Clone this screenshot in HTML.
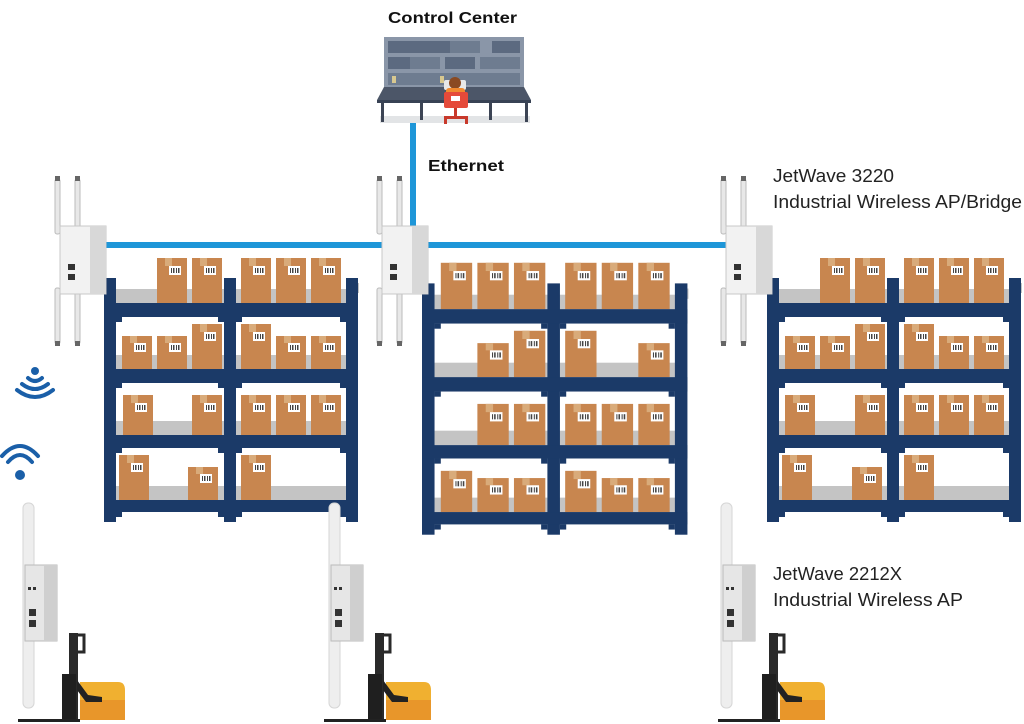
<!DOCTYPE html>
<html><head><meta charset="utf-8"><style>
html,body{margin:0;padding:0;background:#fff;}
svg{display:block;}
text{font-family:"Liberation Sans",sans-serif;}
</style></head><body>
<svg width="1024" height="724" viewBox="0 0 1024 724" xmlns="http://www.w3.org/2000/svg">
<defs>
 <g id="box">
  <rect x="0" y="0" width="30" height="40" fill="#c8864f"/>
  <rect x="8" y="0" width="7" height="8" fill="#d9ab7a"/>
  <rect x="12" y="8" width="12" height="9" fill="#fff"/>
  <rect x="14" y="10" width="1" height="5" fill="#444"/><rect x="16" y="10" width="1.5" height="5" fill="#444"/><rect x="19" y="10" width="1" height="5" fill="#444"/><rect x="21" y="10" width="1.5" height="5" fill="#444"/>
 </g>
 <g id="sbox">
  <rect x="0" y="0" width="30" height="33" fill="#c8864f"/>
  <rect x="8" y="0" width="7" height="7" fill="#d9ab7a"/>
  <rect x="12" y="7" width="12" height="9" fill="#fff"/>
  <rect x="14" y="9" width="1" height="5" fill="#444"/><rect x="16" y="9" width="1.5" height="5" fill="#444"/><rect x="19" y="9" width="1" height="5" fill="#444"/><rect x="21" y="9" width="1.5" height="5" fill="#444"/>
 </g>
 <g id="tbox">
  <rect x="0" y="0" width="30" height="45" fill="#c8864f"/>
  <rect x="8" y="0" width="7" height="8" fill="#d9ab7a"/>
  <rect x="12" y="8" width="12" height="9" fill="#fff"/>
  <rect x="14" y="10" width="1" height="5" fill="#444"/><rect x="16" y="10" width="1.5" height="5" fill="#444"/><rect x="19" y="10" width="1" height="5" fill="#444"/><rect x="21" y="10" width="1.5" height="5" fill="#444"/>
 </g>
 <g id="frame">
  <rect x="12" y="24" width="232" height="14" fill="#c4c4c4"/>
  <rect x="12" y="90" width="232" height="14" fill="#c4c4c4"/>
  <rect x="12" y="156" width="232" height="14" fill="#c4c4c4"/>
  <rect x="12" y="221" width="232" height="14" fill="#c4c4c4"/>
  <rect x="0" y="18" width="12" height="10" fill="#c4c4c4"/>
  <rect x="243" y="18" width="12" height="10" fill="#c4c4c4"/>
 </g>
 <g id="posts" fill="#1b3a68">
  <rect x="0" y="13" width="12" height="244"/>
  <rect x="120" y="13" width="12" height="244"/>
  <rect x="242" y="13" width="12" height="244"/>
  <rect x="0" y="38" width="254" height="14"/>
  <rect x="0" y="104" width="254" height="14"/>
  <rect x="0" y="170" width="254" height="13"/>
  <rect x="0" y="235" width="254" height="12"/>
  <rect x="12" y="52" width="6" height="5"/><rect x="114" y="52" width="6" height="5"/><rect x="132" y="52" width="6" height="5"/><rect x="236" y="52" width="6" height="5"/>
  <rect x="12" y="118" width="6" height="5"/><rect x="114" y="118" width="6" height="5"/><rect x="132" y="118" width="6" height="5"/><rect x="236" y="118" width="6" height="5"/>
  <rect x="12" y="183" width="6" height="5"/><rect x="114" y="183" width="6" height="5"/><rect x="132" y="183" width="6" height="5"/><rect x="236" y="183" width="6" height="5"/>
  <rect x="12" y="247" width="6" height="5"/><rect x="114" y="247" width="6" height="5"/><rect x="132" y="247" width="6" height="5"/><rect x="236" y="247" width="6" height="5"/>
 </g>
 <g id="ap">
  <rect x="5" y="3" width="5" height="55" rx="2" fill="#e8e8e8" stroke="#bbb"/>
  <rect x="25" y="3" width="5" height="55" rx="2" fill="#e8e8e8" stroke="#bbb"/>
  <rect x="5" y="112" width="5" height="56" rx="2" fill="#e8e8e8" stroke="#bbb"/>
  <rect x="25" y="112" width="5" height="56" rx="2" fill="#e8e8e8" stroke="#bbb"/>
  <rect x="5" y="0" width="5" height="5" fill="#666"/><rect x="25" y="0" width="5" height="5" fill="#666"/>
  <rect x="5" y="165" width="5" height="5" fill="#666"/><rect x="25" y="165" width="5" height="5" fill="#666"/>
  <rect x="10" y="50" width="46" height="68" fill="#f2f2f2" stroke="#c8c8c8"/>
  <rect x="40" y="50" width="16" height="68" fill="#d8d8d8"/>
  <rect x="18" y="88" width="7" height="6" fill="#333"/>
  <rect x="18" y="98" width="7" height="6" fill="#333"/>
 </g>
 <g id="ap2">
  <rect x="3" y="0" width="11" height="205" rx="5" fill="#eeeeee" stroke="#d6d6d6"/>
  <rect x="5" y="62" width="32" height="76" fill="#e6e6e6" stroke="#bbb"/>
  <rect x="24" y="62" width="13" height="76" fill="#cfcfcf"/>
  <rect x="9" y="106" width="7" height="7" fill="#333"/>
  <rect x="9" y="117" width="7" height="7" fill="#333"/>
  <rect x="8" y="84" width="3" height="3" fill="#333"/><rect x="13" y="84" width="3" height="3" fill="#333"/>
 </g>
 <g id="fork">
  <path d="M80 682 L118 682 Q125 682 125 690 L125 720 L80 720Z" fill="#f0b030"/>
  <rect x="80" y="700" width="45" height="20" fill="#e8962a"/>
  <rect x="69" y="633" width="9" height="87" fill="#2a2a2a"/>
  <rect x="76" y="635" width="8" height="17" fill="none" stroke="#2a2a2a" stroke-width="3"/>
  <rect x="62" y="674" width="14" height="46" fill="#1f1f1f"/>
  <path d="M77 680 L88 695 L102 697 L102 702 L86 702 L77 690Z" fill="#222"/>
  <rect x="18" y="719" width="62" height="3" fill="#222"/>
 </g>
</defs>

<!-- ethernet lines -->
<rect x="410" y="118" width="6" height="110" fill="#1e96d8"/>
<rect x="100" y="242" width="630" height="6" fill="#1e96d8"/>

<!-- shelf 1 -->
<g transform="translate(104,265)">
 <use href="#frame"/>
 <use href="#tbox" x="53" y="-7"/><use href="#tbox" x="88" y="-7"/><use href="#tbox" x="137" y="-7"/><use href="#tbox" x="172" y="-7"/><use href="#tbox" x="207" y="-7"/>
 <use href="#sbox" x="18" y="71"/><use href="#sbox" x="53" y="71"/><use href="#tbox" x="88" y="59"/><use href="#tbox" x="137" y="59"/><use href="#sbox" x="172" y="71"/><use href="#sbox" x="207" y="71"/>
 <use href="#box" x="19" y="130"/><use href="#box" x="88" y="130"/><use href="#box" x="137" y="130"/><use href="#box" x="172" y="130"/><use href="#box" x="207" y="130"/>
 <use href="#tbox" x="15" y="190"/><use href="#sbox" x="84" y="202"/><use href="#tbox" x="137" y="190"/>
 <use href="#posts"/>
</g>
<!-- shelf 2 -->
<g transform="translate(422,270) scale(1.045,1.03)">
 <use href="#frame"/>
 <use href="#tbox" x="18" y="-7"/><use href="#tbox" x="53" y="-7"/><use href="#tbox" x="88" y="-7"/><use href="#tbox" x="137" y="-7"/><use href="#tbox" x="172" y="-7"/><use href="#tbox" x="207" y="-7"/>
 <use href="#sbox" x="53" y="71"/><use href="#tbox" x="88" y="59"/><use href="#tbox" x="137" y="59"/><use href="#sbox" x="207" y="71"/>
 <use href="#box" x="53" y="130"/><use href="#box" x="88" y="130"/><use href="#box" x="137" y="130"/><use href="#box" x="172" y="130"/><use href="#box" x="207" y="130"/>
 <use href="#box" x="18" y="195"/><use href="#sbox" x="53" y="202"/><use href="#sbox" x="88" y="202"/><use href="#box" x="137" y="195"/><use href="#sbox" x="172" y="202"/><use href="#sbox" x="207" y="202"/>
 <use href="#posts"/>
</g>
<!-- shelf 3 -->
<g transform="translate(767,265)">
 <use href="#frame"/>
 <use href="#tbox" x="53" y="-7"/><use href="#tbox" x="88" y="-7"/><use href="#tbox" x="137" y="-7"/><use href="#tbox" x="172" y="-7"/><use href="#tbox" x="207" y="-7"/>
 <use href="#sbox" x="18" y="71"/><use href="#sbox" x="53" y="71"/><use href="#tbox" x="88" y="59"/><use href="#tbox" x="137" y="59"/><use href="#sbox" x="172" y="71"/><use href="#sbox" x="207" y="71"/>
 <use href="#box" x="18" y="130"/><use href="#box" x="88" y="130"/><use href="#box" x="137" y="130"/><use href="#box" x="172" y="130"/><use href="#box" x="207" y="130"/>
 <use href="#tbox" x="15" y="190"/><use href="#sbox" x="85" y="202"/><use href="#tbox" x="137" y="190"/>
 <use href="#posts"/>
</g>

<!-- APs 3220 -->
<use href="#ap" x="50" y="176"/>
<use href="#ap" x="372" y="176"/>
<use href="#ap" x="716" y="176"/>

<!-- control center -->
<g>
 <rect x="380" y="116" width="150" height="7" fill="#e2e4e6"/>
 <rect x="384" y="37" width="140" height="50" fill="#8a96a8"/>
 <rect x="388" y="41" width="38" height="12" fill="#5c6a80"/><rect x="420" y="41" width="40" height="12" fill="#5c6a80"/><rect x="450" y="41" width="30" height="12" fill="#6e7c90"/><rect x="492" y="41" width="28" height="12" fill="#5c6a80"/>
 <rect x="388" y="57" width="30" height="12" fill="#5c6a80"/><rect x="410" y="57" width="30" height="12" fill="#6e7c90"/><rect x="445" y="57" width="30" height="12" fill="#5c6a80"/><rect x="480" y="57" width="40" height="12" fill="#6e7c90"/>
 <rect x="388" y="73" width="132" height="12" fill="#6e7c90"/>
 <rect x="392" y="76" width="4" height="7" fill="#d8c890"/><rect x="440" y="76" width="4" height="7" fill="#d8c890"/>
 <path d="M377 100 L531 100 L524 87 L384 87Z" fill="#4c5668"/>
 <rect x="377" y="100" width="154" height="3" fill="#384254"/>
 <rect x="381" y="103" width="3" height="19" fill="#3c4454"/><rect x="420" y="103" width="3" height="17" fill="#3c4454"/>
 <rect x="489" y="103" width="3" height="17" fill="#3c4454"/><rect x="525" y="103" width="3" height="19" fill="#3c4454"/>
 <rect x="444" y="80" width="22" height="10" rx="2" fill="#e8e8e8"/>
 <circle cx="455" cy="83" r="6" fill="#8a4a22"/>
 <rect x="446" y="88" width="19" height="10" rx="3" fill="#f08a30"/>
 <rect x="444" y="92" width="24" height="16" rx="2" fill="#e54a3a"/>
 <rect x="451" y="96" width="9" height="5" fill="#fff"/>
 <rect x="454" y="108" width="3" height="10" fill="#c8392b"/>
 <rect x="444" y="116" width="24" height="3" fill="#c8392b"/>
 <rect x="444" y="116" width="3" height="8" fill="#c8392b"/><rect x="465" y="116" width="3" height="8" fill="#c8392b"/>
</g>

<!-- wifi icons -->
<g fill="none" stroke="#1a5fa8" stroke-width="4" stroke-linecap="round">
 <path d="M28 378 Q35 384 42 378"/>
 <path d="M22 384 Q35 394 48 384"/>
 <path d="M17 390 Q35 404 53 390"/>
 <path d="M8 462 Q20 448 32 462"/>
 <path d="M2 456 Q20 436 38 456"/>
</g>
<circle cx="35" cy="371" r="4" fill="#1a5fa8"/>
<circle cx="20" cy="475" r="5" fill="#1a5fa8"/>

<!-- 2212X + forklifts -->
<use href="#ap2" x="20" y="503"/>
<use href="#fork"/>
<use href="#ap2" x="326" y="503"/>
<use href="#fork" x="306"/>
<use href="#ap2" x="718" y="503"/>
<use href="#fork" x="700"/>

<!-- text -->
<text x="388" y="23" font-size="16" font-weight="bold" fill="#111" textLength="129" lengthAdjust="spacingAndGlyphs">Control Center</text>
<text x="428" y="171" font-size="16" font-weight="bold" fill="#111" textLength="76" lengthAdjust="spacingAndGlyphs">Ethernet</text>
<text x="773" y="182" font-size="18" fill="#222" textLength="121" lengthAdjust="spacingAndGlyphs">JetWave 3220</text>
<text x="773" y="208" font-size="18" fill="#222" textLength="249" lengthAdjust="spacingAndGlyphs">Industrial Wireless AP/Bridge</text>
<text x="773" y="580" font-size="18" fill="#222" textLength="129" lengthAdjust="spacingAndGlyphs">JetWave 2212X</text>
<text x="773" y="606" font-size="18" fill="#222" textLength="190" lengthAdjust="spacingAndGlyphs">Industrial Wireless AP</text>
</svg>
</body></html>
